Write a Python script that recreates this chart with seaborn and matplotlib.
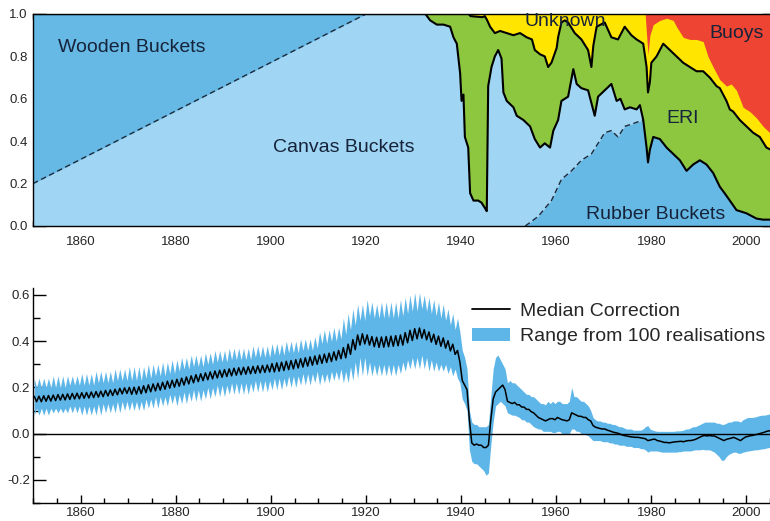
import numpy as np
import matplotlib
matplotlib.use("Agg")
import matplotlib.pyplot as plt
import seaborn as sns
from matplotlib.ticker import MultipleLocator
from matplotlib.lines import Line2D
from matplotlib.patches import Patch

# ---------------- top panel: fraction of observations by method ----------------
# dashed line between wooden and canvas buckets
split_years = [1850, 1920]
wood_canvas_split = [0.2, 1.0]

# top of the bucket fraction (lower black line)
bucket_years = [1850, 1932.5, 1933.5, 1934.9, 1936.3, 1937.7, 1938.4, 1939.1, 1939.8, 1940.1,
                1940.5, 1940.8, 1941.5, 1941.9, 1942.6, 1943.6, 1944.3, 1945.0, 1945.4, 1945.7,
                1946.4, 1947.1, 1947.8, 1948.5, 1948.9, 1949.6, 1951.0, 1951.7, 1953.1, 1954.5,
                1955.5, 1956.6, 1957.6, 1958.7, 1959.4, 1960.4, 1961.1, 1962.5, 1963.6, 1964.3,
                1965.3, 1966.7, 1967.4, 1968.1, 1968.8, 1970.2, 1971.6, 1972.7, 1973.5, 1974.4,
                1975.5, 1976.9, 1977.6, 1978.3, 1979.0, 1979.3, 1979.7, 1980.4, 1981.8, 1983.2,
                1984.6, 1986.0, 1987.4, 1988.8, 1990.2, 1991.6, 1993.0, 1994.4, 1995.4, 1996.5,
                1997.9, 2000.0, 2002.1, 2003.5, 2006]
bucket_frac = [1.0, 1.0, 0.97, 0.95, 0.95, 0.94, 0.89, 0.86, 0.72, 0.59,
               0.62, 0.42, 0.37, 0.155, 0.12, 0.12, 0.11, 0.085, 0.07, 0.66,
               0.75, 0.80, 0.83, 0.79, 0.63, 0.59, 0.56, 0.52, 0.50, 0.47,
               0.41, 0.37, 0.39, 0.37, 0.45, 0.50, 0.59, 0.61, 0.74, 0.67,
               0.65, 0.64, 0.58, 0.52, 0.61, 0.64, 0.67, 0.59, 0.60, 0.55,
               0.56, 0.55, 0.57, 0.50, 0.37, 0.30, 0.36, 0.42, 0.41, 0.37,
               0.34, 0.31, 0.26, 0.29, 0.31, 0.29, 0.25, 0.185, 0.155, 0.12,
               0.075, 0.06, 0.035, 0.03, 0.03]

# top of ERI (upper black line)
eri_years = [1850, 1941.6, 1942.0, 1944.5, 1945.0, 1945.5, 1946.1, 1947.1, 1948.2, 1949.6,
             1951.0, 1952.4, 1953.8, 1954.9, 1955.5, 1956.6, 1957.6, 1958.3, 1959.0, 1960.1,
             1960.4, 1961.1, 1961.8, 1962.5, 1963.9, 1965.3, 1966.7, 1967.4, 1967.8, 1968.5,
             1970.2, 1971.6, 1973.0, 1974.4, 1975.8, 1976.9, 1978.3, 1979.0, 1979.3, 1979.7,
             1980.0, 1981.1, 1982.5, 1983.9, 1985.3, 1986.7, 1988.1, 1989.5, 1990.9, 1992.3,
             1993.7, 1994.4, 1995.8, 1996.5, 1997.2, 1998.6, 2000.0, 2001.4, 2002.8, 2004.2, 2006]
eri_top = [1.0, 1.0, 0.99, 0.985, 0.99, 0.97, 0.94, 0.91, 0.92, 0.91,
           0.90, 0.91, 0.89, 0.88, 0.83, 0.81, 0.80, 0.75, 0.77, 0.84,
           0.89, 0.96, 0.97, 0.96, 0.91, 0.88, 0.83, 0.75, 0.85, 0.94,
           0.96, 0.89, 0.88, 0.94, 0.90, 0.88, 0.86, 0.75, 0.63, 0.68,
           0.77, 0.80, 0.86, 0.83, 0.80, 0.77, 0.75, 0.73, 0.73, 0.70,
           0.66, 0.65, 0.59, 0.55, 0.54, 0.50, 0.47, 0.44, 0.42, 0.37, 0.35]

# top of "unknown" (boundary with buoys)
unknown_years = [1850, 1978.7, 1979.0, 1979.3, 1979.7, 1980.4, 1981.8, 1983.2, 1984.6, 1985.3,
                 1986.7, 1988.1, 1989.5, 1990.9, 1991.9, 1993.0, 1994.4, 1995.8, 1996.8, 1997.9,
                 1999.3, 2000.7, 2002.1, 2003.5, 2004.9, 2006]
unknown_top = [1.0, 1.0, 0.90, 0.81, 0.90, 0.95, 0.97, 0.98, 0.97, 0.94,
               0.89, 0.88, 0.88, 0.87, 0.80, 0.75, 0.69, 0.66, 0.67, 0.64,
               0.56, 0.54, 0.51, 0.47, 0.44, 0.42]

# dashed line between canvas and rubber buckets (joins the bucket line in 1978)
rubber_years = [1953.5, 1956.2, 1959.0, 1961.1, 1963.2, 1965.3, 1967.4, 1968.8, 1970.2, 1971.6,
                1973.0, 1974.4, 1975.8, 1977.0, 1978.3]
rubber_frac = [0.0, 0.045, 0.12, 0.22, 0.26, 0.31, 0.34, 0.39, 0.44, 0.45,
               0.42, 0.47, 0.48, 0.49, 0.50]

top_labels = ["Wooden Buckets", "Canvas Buckets", "Unknown", "Buoys", "ERI", "Rubber Buckets"]

# ---------------- bottom panel: bucket correction (degC) ----------------
years = np.arange(1850, 2006)
# a = first half of each year, b = second half
med_a = [.162, .162, .164, .165, .167, .169, .170, .172, .174, .175,
         .177, .178, .180, .182, .184, .187, .189, .192, .196, .198,
         .200, .201, .203, .207, .211, .215, .218, .222, .227, .231,
         .235, .240, .245, .250, .255, .259, .263, .267, .271, .274,
         .277, .280, .283, .285, .287, .289, .291, .293, .295, .297,
         .303, .306, .309, .313, .316, .320, .324, .328, .332, .336,
         .340, .344, .348, .354, .360, .372, .387, .407, .427, .432,
         .427, .420, .417, .418, .420, .422, .424, .427, .437, .447,
         .454, .457, .450, .440, .430, .422, .414, .402, .387, .360,
         .230, .190, -.040, -.045, -.050, -.060, .060, .180, .200, .190,
         .135, .135, .125, .115, .105, .090, .070, .060, .060, .065,
         .070, .060, .055, .090, .080, .075, .070, .055, .028, .022,
         .020, .012, .005, .000, -.008, -.012, -.015, -.016, -.020, -.030,
         -.025, -.030, -.035, -.038, -.038, -.035, -.033, -.032, -.030, -.025,
         -.015, -.008, -.008, -.010, -.020, -.030, -.022, -.016, -.025, -.022,
         -.012, -.008, -.003, .003, .010, .015]
med_b = [.138, .138, .140, .141, .143, .145, .146, .148, .150, .151,
         .153, .154, .156, .158, .160, .163, .165, .168, .172, .174,
         .170, .171, .173, .177, .181, .185, .188, .192, .197, .201,
         .205, .210, .215, .220, .225, .229, .233, .237, .241, .244,
         .247, .250, .253, .255, .257, .259, .261, .263, .265, .267,
         .267, .270, .273, .277, .280, .284, .288, .292, .296, .300,
         .304, .308, .312, .318, .324, .328, .343, .363, .383, .388,
         .383, .376, .373, .374, .376, .378, .380, .383, .393, .403,
         .410, .413, .406, .396, .386, .378, .370, .358, .343, .310,
         .210, .060, -.050, -.050, -.060, -.050, .150, .190, .210, .140,
         .130, .125, .115, .105, .095, .080, .065, .055, .065, .060,
         .065, .058, .060, .085, .075, .070, .060, .035, .025, .020,
         .015, .008, .003, -.005, -.010, -.014, -.016, -.018, -.022, -.028,
         -.024, -.032, -.038, -.040, -.036, -.034, -.035, -.030, -.028, -.020,
         -.010, -.010, -.010, -.015, -.025, -.025, -.020, -.020, -.030, -.015,
         -.009, -.005, .000, .006, .012, .015]
hi_a = [.24, .24, .24, .24, .25, .25, .25, .25, .25, .25,
        .26, .26, .26, .27, .27, .27, .27, .28, .28, .28,
        .29, .29, .29, .29, .30, .30, .30, .31, .31, .32,
        .32, .33, .33, .34, .34, .34, .35, .35, .36, .36,
        .36, .37, .37, .37, .37, .37, .38, .38, .38, .38,
        .39, .39, .39, .40, .40, .40, .41, .41, .41, .42,
        .44, .45, .45, .46, .46, .50, .52, .54, .56, .56,
        .58, .57, .56, .57, .57, .57, .57, .58, .59, .60,
        .61, .61, .60, .59, .58, .57, .56, .54, .52, .50,
        .36, .28, .05, .04, .03, .03, .16, .33, .32, .28,
        .23, .22, .20, .18, .17, .16, .14, .13, .14, .14,
        .14, .13, .13, .20, .16, .14, .13, .10, .06, .055,
        .05, .045, .04, .03, .025, .02, .015, .015, .02, .035,
        .015, .01, .01, .01, .01, .012, .013, .02, .025, .03,
        .04, .05, .05, .05, .045, .04, .05, .055, .055, .06,
        .07, .07, .075, .08, .082, .085]
hi_b = [.20, .20, .20, .20, .20, .20, .20, .21, .21, .21,
        .21, .21, .21, .22, .22, .22, .22, .23, .23, .23,
        .23, .23, .23, .24, .24, .25, .25, .25, .26, .26,
        .27, .28, .28, .29, .29, .29, .30, .30, .31, .31,
        .31, .32, .32, .32, .32, .32, .33, .33, .33, .33,
        .34, .34, .34, .35, .35, .35, .36, .36, .36, .37,
        .39, .39, .40, .40, .41, .43, .45, .47, .49, .49,
        .51, .50, .50, .50, .50, .50, .50, .51, .52, .53,
        .53, .54, .53, .52, .51, .50, .49, .47, .45, .44,
        .33, .10, .04, .03, .03, .04, .28, .34, .30, .22,
        .22, .21, .19, .17, .16, .15, .13, .125, .13, .13,
        .14, .13, .14, .16, .15, .14, .12, .07, .055, .05,
        .045, .04, .035, .03, .02, .02, .015, .015, .03, .02,
        .012, .01, .01, .01, .01, .012, .015, .02, .03, .035,
        .045, .05, .05, .045, .04, .045, .05, .055, .05, .065,
        .07, .072, .078, .08, .085, .085]
lo_a = [.08, .08, .08, .08, .09, .09, .09, .09, .09, .09,
        .08, .08, .08, .08, .08, .09, .09, .09, .09, .10,
        .10, .10, .10, .10, .11, .11, .11, .12, .12, .13,
        .12, .13, .13, .14, .14, .14, .15, .15, .16, .16,
        .16, .17, .17, .17, .17, .17, .18, .18, .18, .18,
        .19, .19, .19, .20, .20, .20, .21, .21, .21, .22,
        .21, .22, .22, .23, .23, .22, .22, .23, .24, .25,
        .25, .25, .25, .25, .25, .25, .25, .26, .27, .28,
        .28, .28, .28, .27, .27, .27, .27, .26, .25, .24,
        .15, .10, -.12, -.13, -.15, -.18, -.05, .12, .14, .12,
        .085, .08, .07, .06, .05, .03, .02, .01, .01, .005,
        .01, .00, .00, .02, .01, .00, -.005, -.02, -.03, -.03,
        -.035, -.04, -.045, -.05, -.05, -.055, -.06, -.06, -.065, -.08,
        -.075, -.075, -.08, -.08, -.08, -.08, -.078, -.075, -.075, -.07,
        -.07, -.07, -.07, -.08, -.10, -.115, -.09, -.08, -.085, -.08,
        -.075, -.072, -.07, -.066, -.062, -.06]
lo_b = [.11, .11, .11, .11, .11, .11, .11, .12, .12, .12,
        .12, .12, .12, .13, .13, .13, .13, .14, .14, .14,
        .14, .14, .14, .15, .15, .16, .16, .16, .17, .17,
        .17, .18, .18, .19, .19, .19, .20, .20, .21, .21,
        .21, .22, .22, .22, .22, .22, .23, .23, .23, .23,
        .24, .24, .24, .25, .25, .25, .26, .26, .26, .27,
        .26, .26, .27, .27, .28, .27, .29, .31, .33, .33,
        .31, .30, .30, .30, .30, .30, .30, .31, .32, .33,
        .33, .34, .33, .32, .31, .30, .30, .29, .28, .22,
        .13, -.07, -.13, -.14, -.16, -.17, .05, .13, .13, .09,
        .08, .075, .06, .05, .04, .025, .02, .01, .01, .005,
        .01, .00, .00, .02, .01, .00, -.01, -.03, -.03, -.035,
        -.035, -.04, -.045, -.05, -.055, -.055, -.06, -.065, -.07, -.075,
        -.075, -.078, -.08, -.08, -.08, -.078, -.075, -.075, -.072, -.07,
        -.068, -.07, -.075, -.09, -.115, -.10, -.085, -.08, -.085, -.078,
        -.074, -.07, -.068, -.065, -.06, -.06]

legend_labels = ["Median Correction", "Range from 100 realisations"]

# colours
C_WOOD = "#66b8e5"
C_CANVAS = "#a0d6f3"
C_ERI = "#8dc63f"
C_UNK = "#ffe500"
C_BUOY = "#ee4433"
C_BAND = "#5eb6e8"
C_TEXT = "#16233a"
C_DASH = "#1c2a3c"

sns.set_theme(style="ticks")
plt.rcParams["font.family"] = ["Liberation Sans", "DejaVu Sans"]
plt.rcParams["axes.unicode_minus"] = False

fig = plt.figure(figsize=(7.7, 5.21), dpi=100)
ax1 = fig.add_axes([33 / 770, 1 - 226 / 521, 742 / 770, 212 / 521])
ax2 = fig.add_axes([33 / 770, 1 - 503 / 521, 742 / 770, 215 / 521])

# ---- top panel (painted from the top layer down) ----
ax1.fill_between(eri_years, eri_top, 1, color=C_UNK, lw=0)
ax1.fill_between(unknown_years, unknown_top, 1, color=C_BUOY, lw=0)
ax1.fill_between(eri_years, 0, eri_top, color=C_ERI, lw=0)
ax1.fill_between(bucket_years, 0, bucket_frac, color=C_CANVAS, lw=0)
ax1.fill_between(split_years, wood_canvas_split, 1, color=C_WOOD, lw=0)

# rubber buckets: dashed line until it meets the bucket line, then the bucket line itself
rub_x = rubber_years + [y for y in bucket_years if y > rubber_years[-1]]
rub_y = rubber_frac + [v for y, v in zip(bucket_years, bucket_frac) if y > rubber_years[-1]]
ax1.fill_between(rub_x, 0, rub_y, color=C_WOOD, lw=0)

sns.lineplot(x=split_years, y=wood_canvas_split, ax=ax1, color=C_DASH, linewidth=1.0,
             linestyle=(0, (4, 2.5)), estimator=None, sort=False)
sns.lineplot(x=rubber_years, y=rubber_frac, ax=ax1, color=C_DASH, linewidth=1.0,
             linestyle=(0, (4, 2.5)), estimator=None, sort=False)
sns.lineplot(x=eri_years, y=eri_top, ax=ax1, color="black", linewidth=1.5,
             estimator=None, sort=False)
sns.lineplot(x=bucket_years, y=bucket_frac, ax=ax1, color="black", linewidth=1.5,
             estimator=None, sort=False)

label_pos = [(1870.8, 0.84), (1915.3, 0.37), (1961.8, 0.965), (1998.0, 0.91),
             (1986.6, 0.505), (1981.0, 0.055)]
for txt, (lx, ly) in zip(top_labels, label_pos):
    ax1.text(lx, ly, txt, ha="center", va="center", fontsize=14, color=C_TEXT, zorder=5)

ax1.set_ylim(0, 1)

# ---- bottom panel ----
t = np.column_stack([years + 0.25, years + 0.75]).ravel()
med = np.column_stack([med_a, med_b]).ravel()
hi = np.column_stack([hi_a, hi_b]).ravel()
lo = np.column_stack([lo_a, lo_b]).ravel()

ax2.fill_between(t, lo, hi, color=C_BAND, lw=0)
sns.lineplot(x=t, y=med, ax=ax2, color="black", linewidth=1.1, estimator=None, sort=False)
ax2.axhline(0, color="black", lw=1.0)
ax2.set_ylim(-0.3, 0.63)

handles = [Line2D([], [], color="black", lw=1.3), Patch(facecolor=C_BAND, lw=0)]
ax2.legend(handles, legend_labels, loc="upper left", bbox_to_anchor=(0.5916, 0.935),
           frameon=False, fontsize=14, handlelength=1.96, handletextpad=0.5,
           borderpad=0, borderaxespad=0, labelspacing=0.42)

# ---- axes styling ----
for ax in (ax1, ax2):
    ax.set_xlim(1850, 2006)
    ax.set_xlabel("")
    ax.set_ylabel("")
    ax.xaxis.set_major_locator(MultipleLocator(20))
    ax.xaxis.set_minor_locator(MultipleLocator(5))
    ax.tick_params(axis="x", which="major", direction="in", length=6, width=1,
                   labelsize=9.5, pad=7, color="black")
    ax.tick_params(axis="x", which="minor", direction="in", length=3.5, width=1, color="black")
    ax.tick_params(axis="y", which="major", direction="in", length=9.5, width=1,
                   labelsize=9.5, color="black")
    ax.tick_params(axis="y", which="minor", direction="in", length=5, width=1, color="black")
    for sp in ax.spines.values():
        sp.set_color("black")
        sp.set_linewidth(1.0)

ax1.yaxis.set_major_locator(MultipleLocator(0.2))
ax1.yaxis.set_minor_locator(MultipleLocator(0.05))
ax1.tick_params(axis="both", which="both", top=True, right=True)
ax1.tick_params(axis="y", pad=4)

ax2.yaxis.set_major_locator(MultipleLocator(0.2))
ax2.yaxis.set_minor_locator(MultipleLocator(0.1))
ax2.tick_params(axis="y", pad=2)
ax2.tick_params(axis="x", which="major", pad=3)
sns.despine(ax=ax2)

fig.savefig("out.png", dpi=100)
